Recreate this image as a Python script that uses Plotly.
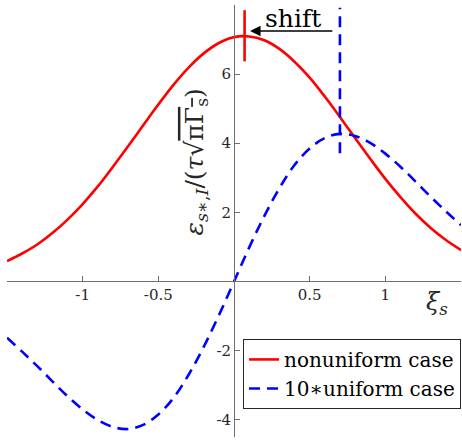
import plotly.graph_objects as go

# ---- data ----
xi = [-1.5, -1.4, -1.3, -1.2, -1.1, -1.0, -0.9, -0.8, -0.7, -0.6, -0.5, -0.4, -0.3, -0.2, -0.1,
      0.0, 0.1, 0.2, 0.3, 0.4, 0.5, 0.6, 0.7, 0.8, 0.9, 1.0, 1.1, 1.2, 1.3, 1.4, 1.5]
nonuniform = [0.59, 0.81, 1.07, 1.40, 1.79, 2.24, 2.75, 3.32, 3.91, 4.52, 5.12, 5.69, 6.19, 6.60, 6.90,
              7.07, 7.09, 6.98, 6.73, 6.36, 5.90, 5.35, 4.76, 4.15, 3.55, 2.97, 2.44, 1.96, 1.55, 1.20, 0.91]
uniform10 = [-1.63, -2.03, -2.45, -2.89, -3.32, -3.70, -4.01, -4.21, -4.27, -4.15, -3.85, -3.37, -2.70, -1.89, -0.98,
             0.0, 0.98, 1.89, 2.70, 3.37, 3.85, 4.15, 4.27, 4.21, 4.01, 3.70, 3.32, 2.89, 2.45, 2.03, 1.63]

peak_nonuniform = 0.07
peak_uniform = 0.70
red_marker_y = [6.37, 7.85]
blue_marker_y = [3.71, 7.92]

x_ticks = [-1, -0.5, 0.5, 1]
x_ticktext = ["-1", "-0.5", "0.5", "1"]
x_end_ticks = [-1.5, 1.5]
y_ticks = [-4, -2, 2, 4, 6]
y_ticktext = ["-4", "-2", "2", "4", "6"]
y_end_ticks = [8]

FONT = "DejaVu Serif"

fig = go.Figure()
fig.add_trace(go.Scatter(x=xi, y=nonuniform, mode="lines", name="nonuniform case",
                         line=dict(color="#ff0000", width=2.6, shape="spline")))
fig.add_trace(go.Scatter(x=xi, y=uniform10, mode="lines", name="10∗uniform case",
                         line=dict(color="#0000ff", width=2.6, shape="spline", dash="11px,7px")))
fig.add_trace(go.Scatter(x=[peak_nonuniform, peak_nonuniform], y=red_marker_y, mode="lines",
                         showlegend=False, line=dict(color="#ff0000", width=2.6)))
fig.add_trace(go.Scatter(x=[peak_uniform, peak_uniform], y=blue_marker_y, mode="lines",
                         showlegend=False, line=dict(color="#0000ff", width=2.6, dash="11px,7px")))

axis_common = dict(showgrid=False, zeroline=False, showline=True, linecolor="#6e6e6e", linewidth=1,
                   ticks="inside", ticklen=5, tickcolor="#6e6e6e",
                   tickfont=dict(family=FONT, size=15, color="#262626"))

fig.update_layout(
    width=462, height=443,
    margin=dict(l=7, r=1, t=5, b=6),
    font=dict(family=FONT),
    paper_bgcolor="white", plot_bgcolor="white",
    xaxis=dict(range=[-1.5, 1.5], anchor="free", position=4.5 / 12.5,
               tickmode="array", tickvals=x_ticks, ticktext=x_ticktext,
               minor=dict(tickmode="array", tickvals=x_end_ticks, ticks="inside", ticklen=5,
                          tickcolor="#6e6e6e", showgrid=False),
               **axis_common),
    yaxis=dict(range=[-4.5, 8], anchor="free", position=0.5,
               tickmode="array", tickvals=y_ticks, ticktext=y_ticktext,
               minor=dict(tickmode="array", tickvals=y_end_ticks, ticks="inside", ticklen=5,
                          tickcolor="#6e6e6e", showgrid=False),
               **axis_common),
    legend=dict(x=1, xanchor="right", y=0.227, yanchor="top",
                bgcolor="white", bordercolor="#262626", borderwidth=1,
                font=dict(family=FONT, size=20, color="black"),
                tracegroupgap=0, itemwidth=30),
    showlegend=True,
)

fig.add_annotation(x=-0.25, y=3.45, xref="x", yref="y", textangle=-90,
                   text="<i>ε</i><sub><i>s</i>∗,<i>I</i></sub>/(<i>τ</i>√<span style='text-decoration:overline'>πΓ<sub>s</sub></span>)",
                   showarrow=False, font=dict(family=FONT, size=25, color="#262626"))
fig.add_annotation(x=1.34, y=-0.65, xref="x", yref="y",
                   text="<i>ξ<sub>s</sub></i>", showarrow=False,
                   font=dict(family=FONT, size=24, color="#262626"))
fig.add_annotation(x=0.39, y=7.6, xref="x", yref="y", text="shift", showarrow=False,
                   font=dict(family=FONT, size=25, color="black"))
fig.add_annotation(x=0.106, y=7.25, ax=0.66, ay=7.25, xref="x", yref="y", axref="x", ayref="y",
                   text="", showarrow=True, arrowhead=2, arrowsize=1.4, arrowwidth=1.5, arrowcolor="black")

fig.write_html("out.html")
